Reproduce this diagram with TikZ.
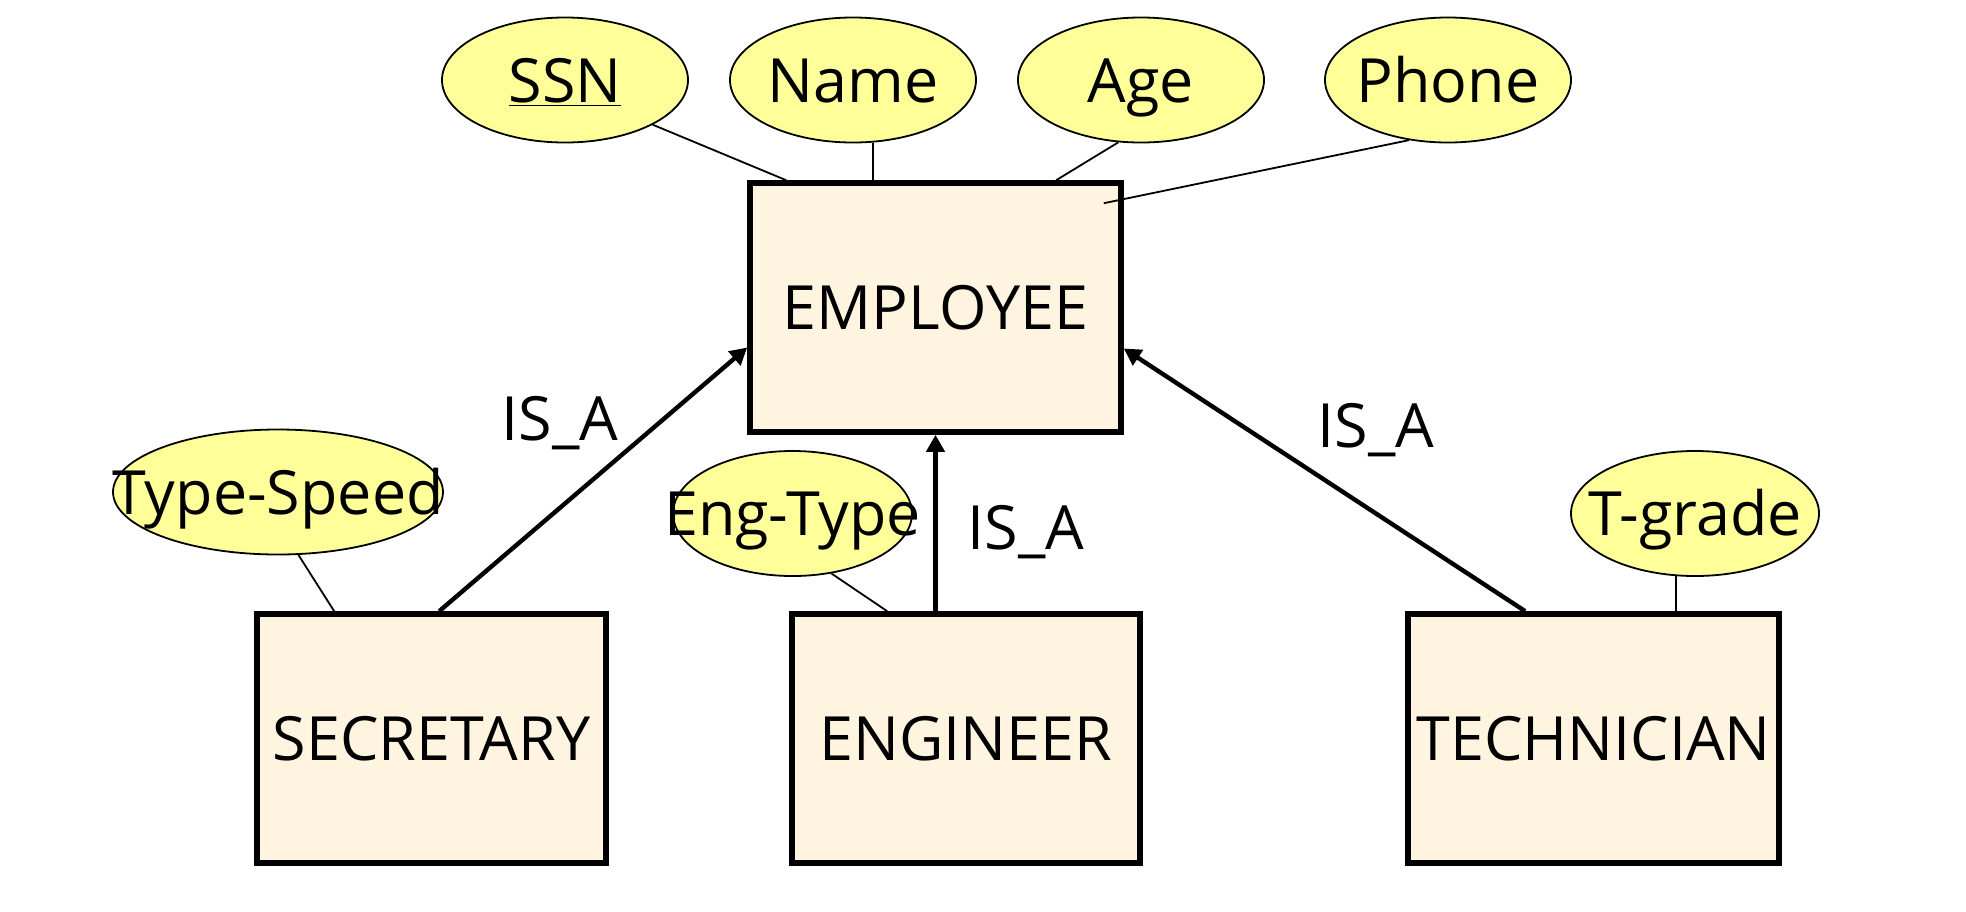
\documentclass[tikz,border=0pt]{standalone}
\usepackage{fontspec}
\setmainfont{Open Sans}
\usetikzlibrary{shapes.geometric,arrows.meta,calc}
\definecolor{attrfill}{HTML}{FFFF99}
\definecolor{entfill}{HTML}{FFF4E0}
\begin{document}
\begin{tikzpicture}[x=0.5pt,y=-0.5pt,
  every node/.style={font=\fontsize{30.5}{36}\selectfont, inner sep=0pt, text height=22pt, text depth=0pt},
  entity/.style={draw, line width=2.8pt, fill=entfill, minimum height=124.5pt},
  attr/.style={ellipse, draw, line width=0.9pt, fill=attrfill, minimum height=62.5pt},
  attrline/.style={line width=0.9pt},
  isa/.style={line width=2.2pt, -{Triangle[length=8.5pt,width=9pt]}},
  lbl/.style={}]
\useasboundingbox (0,0) rectangle (1966,911);
% entities
\node[entity, minimum width=185.5pt] (emp) at (935.5,307.5) {EMPLOYEE};
\node[entity, minimum width=174.5pt] (sec) at (431.5,738.5) {SECRETARY};
\node[entity, minimum width=174pt] (eng) at (966,738.5) {ENGINEER};
\node[entity, minimum width=185.5pt] (tech) at (1593.5,738.5) {TECHNICIAN};
% attributes
\node[attr, minimum width=123pt] (ssn) at (565,80) {\makebox[0pt]{\underline{SSN}}};
\node[attr, minimum width=123pt] (name) at (853,80) {\makebox[0pt]{Name}};
\node[attr, minimum width=123pt] (age) at (1141,80) {\makebox[0pt]{Age}};
\node[attr, minimum width=123pt] (phone) at (1448,80) {\makebox[0pt]{Phone}};
\node[attr, minimum width=165pt] (tspeed) at (278,492) {\makebox[0pt]{Type-Speed}};
\node[attr, minimum width=119.5pt] (etype) at (792.5,513.5) {\makebox[0pt]{Eng-Type}};
\node[attr, minimum width=124pt] (tgrade) at (1695,513.5) {\makebox[0pt]{T-grade}};
% attribute connectors
\coordinate (phoneend) at ($(emp.north east)+(-20,23)$);
\draw[attrline] (ssn.-27) -- ($(emp.north west)+(39,0)$);
\draw[attrline] (name.-72) -- (name.-72 |- emp.north);
\draw[attrline] (age.-110) -- ($(emp.north west)+(309,0)$);
\draw[attrline] (phone.-123) -- (phoneend);
\draw[attrline] (tspeed.-72) -- ($(sec.north west)+(80,0)$);
\draw[attrline] (etype.-57) -- ($(eng.north west)+(98,0)$);
\draw[attrline] (tgrade.-107) -- (tgrade.-107 |- tech.north);
% IS_A arrows
\draw[isa] ($(sec.north west)+(185,0)$) -- ($(emp.west)+(0,40)$);
\draw[isa] (emp.south |- eng.north) -- (emp.south);
\draw[isa] ($(tech.north west)+(120,0)$) -- ($(emp.east)+(0,41)$);
% labels
\node[lbl] (isa1) at (560,418) {IS\_A};
\node[lbl] (isa2) at (1026,527) {IS\_A};
\node[lbl] (isa3) at (1376,425) {IS\_A};
\end{tikzpicture}
\end{document}
